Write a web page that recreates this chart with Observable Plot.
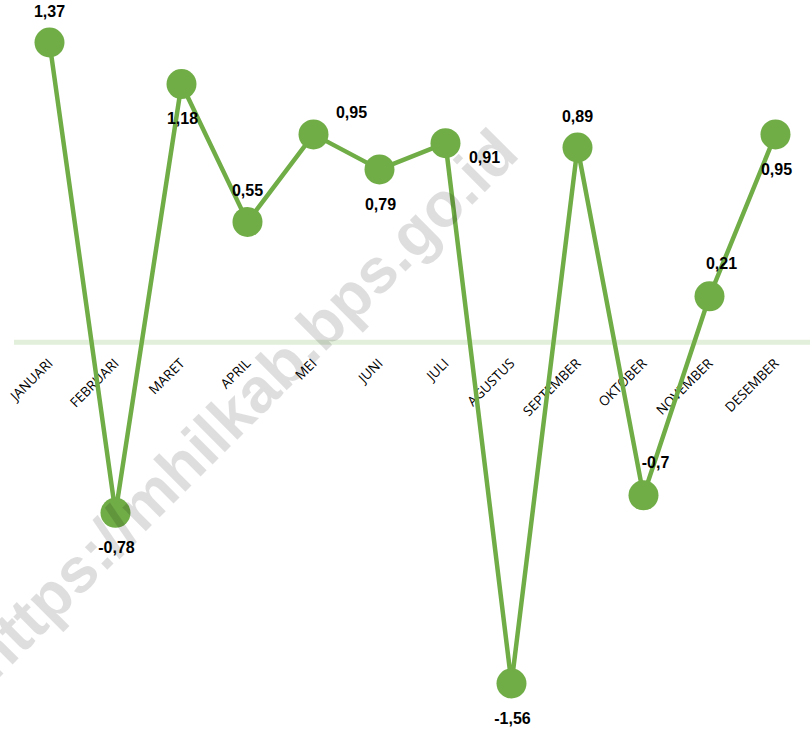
<!DOCTYPE html>
<html>
<head>
<meta charset="utf-8">
<script src="https://cdn.jsdelivr.net/npm/d3@7"></script>
<script src="https://cdn.jsdelivr.net/npm/@observablehq/plot@0.6"></script>
<style>
  html, body { margin: 0; padding: 0; background: #fff; }
  #chart svg { display: block; }
</style>
</head>
<body>
<div id="chart"></div>
<script>
const months = ["JANUARI","FEBRUARI","MARET","APRIL","MEI","JUNI","JULI","AGUSTUS","SEPTEMBER","OKTOBER","NOVEMBER","DESEMBER"];
const values = [1.37, -0.78, 1.18, 0.55, 0.95, 0.79, 0.91, -1.56, 0.89, -0.7, 0.21, 0.95];
// where each value label sits relative to its point
const labelSide = ["above","below","below","above","right","below","rightBelow","below","above","aboveRight","aboveRight","below"];
const watermark = "https://mhilkab.bps.go.id";

const data = months.map((m, i) => ({month: m, value: values[i], side: labelSide[i], label: String(values[i]).replace(".", ",")}));
const green = "#70ad47";
const labelFont = {fontFamily: "Liberation Sans, Arial, sans-serif", fontWeight: "bold", fontSize: 16, fill: "#000"};
const sideOffsets = {
  above: {dx: 0, dy: -31},
  below: {dx: 1, dy: 35},
  aboveRight: {dx: 12, dy: -32},
  right: {dx: 38, dy: -22},
  rightBelow: {dx: 39, dy: 15}
};

const chart = Plot.plot({
  width: 812,
  height: 729,
  marginLeft: 14,
  marginRight: 2,
  marginTop: 42,
  marginBottom: 46,
  x: {type: "point", domain: months, padding: 0.5, axis: null},
  y: {domain: [-1.56, 1.37], axis: null},
  style: {background: "#fff"},
  marks: [
    Plot.ruleY([0], {stroke: "#e2efda", strokeWidth: 5}),
    Plot.text(data, {x: "month", y: () => 0, text: "month", rotate: -45, textAnchor: "end", dx: 1, dy: 19,
      fontFamily: "Open Sans, sans-serif", fontSize: 13.5, fill: "#000"}),
    Plot.line(data, {x: "month", y: "value", stroke: green, strokeWidth: 4.5}),
    Plot.dot(data, {x: "month", y: "value", r: 15, fill: green, stroke: null}),
    ...Object.entries(sideOffsets).map(([side, off]) =>
      Plot.text(data.filter(d => d.side === side), {x: "month", y: "value", text: "label", dx: off.dx, dy: off.dy, ...labelFont})
    ),
    Plot.text([watermark], {frameAnchor: "middle", text: d => d, rotate: -45, dx: -169, dy: 42,
      fontFamily: "Liberation Sans, Arial, sans-serif", fontWeight: "bold", fontSize: 63, fill: "#000", fillOpacity: 0.13})
  ]
});
document.getElementById("chart").appendChild(chart);
</script>
</body>
</html>
